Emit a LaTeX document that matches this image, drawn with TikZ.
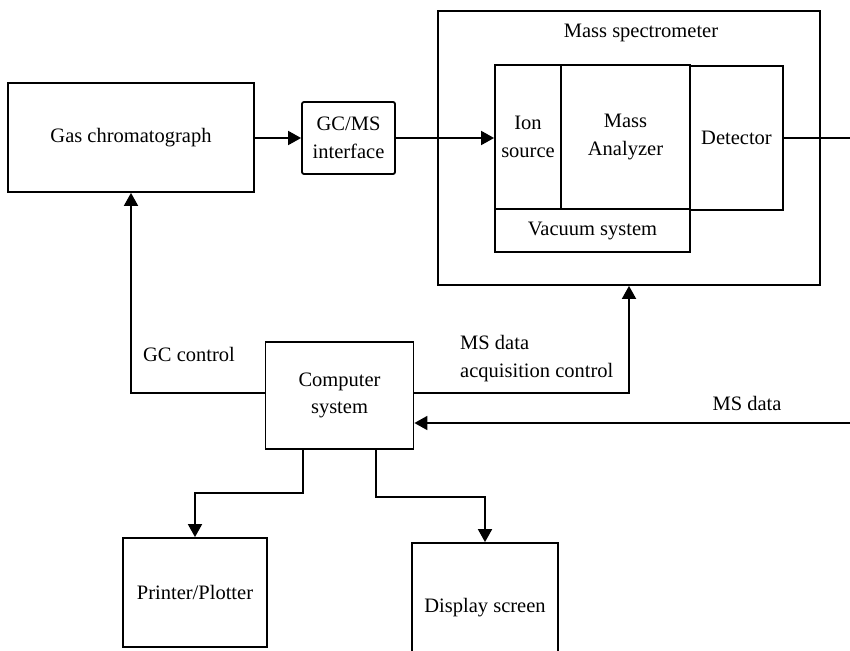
\documentclass[tikz,border=0pt]{standalone}
\usepackage{fontspec}
\setmainfont{Liberation Serif}
\usetikzlibrary{arrows.meta,calc}
\begin{document}
\begin{tikzpicture}[x=1pt,y=1pt,
  every node/.style={font=\fontsize{20.5}{27.5}\selectfont, inner sep=0pt},
  blk/.style={draw, line width=1.8pt, rectangle, align=center},
  lbl/.style={align=left},
  conn/.style={line width=1.8pt},
  arr/.style={line width=1.8pt, -{Triangle[length=13pt,width=14pt]}}]
\clip (0,0) rectangle (850,-650);
% boxes
\node[blk, minimum width=246, minimum height=109] (gc) at (131,-137.5) {Gas chromatograph};
\node[blk, rounded corners=2pt, minimum width=93, minimum height=72] (iface) at (348.5,-138) {GC/MS\\interface};
\node[blk, minimum width=382, minimum height=274] (ms) at (629,-148) {};
\node (mslabel) at (641,-33) {Mass spectrometer};
\node[blk, minimum width=66, minimum height=144] (ion) at (528,-137) {Ion\\source};
\node[blk, minimum width=129, minimum height=144] (ana) at (625.5,-137) {Mass\\Analyzer};
\node[blk, minimum width=93, minimum height=144] (det) at (736.5,-138) {Detector};
\node[blk, minimum width=195, minimum height=43] (vac) at (592.5,-230.5) {Vacuum system};
\node[blk, minimum width=148, minimum height=107] (comp) at (339.5,-395.5) {Computer\\system};
\node[blk, minimum width=144, minimum height=109] (printer) at (195,-592.5) {Printer/Plotter};
\node[blk, minimum width=146, minimum height=130] (display) at (485,-608) {Display screen};
% labels
\node (gcctl) at (189,-354) {GC control};
\node[lbl, anchor=west] (acq) at (460,-358.5) {MS data\\acquisition control};
\node (msdata) at (747,-403) {MS data};
% connectors
\coordinate (r1) at (850,-138);
\coordinate (r2) at (850,-423);
\draw[arr] (gc.east |- iface.west) -- (iface.west);
\draw[arr] (iface.east) -- (iface.east -| ion.west);
\draw[conn] (det.east) -- (r1);
\draw[arr] (r2) -- (r2 -| comp.east);
\draw[arr] (comp.west |- 0,-393) -| (gc.south);
\draw[arr] (comp.east |- 0,-393) -| (ms.south);
\draw[arr] (comp.south -| 303,0) -- (303,-493) -| (printer.north);
\draw[arr] (comp.south -| 376,0) -- (376,-497) -| (display.north);
\end{tikzpicture}
\end{document}
